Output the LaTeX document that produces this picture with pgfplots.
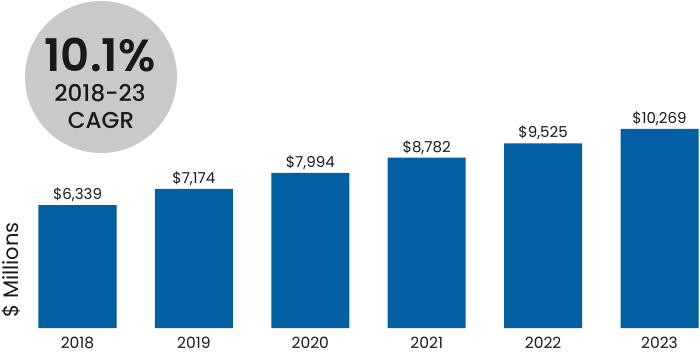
\documentclass[border=0pt]{standalone}
\usepackage{pgfplots}
\pgfplotsset{compat=1.18}
\usepackage{fontspec}
\setmainfont{Poppins}
\newfontfamily\psemi{Poppins SemiBold}
\newfontfamily\pmed{Poppins Medium}
\definecolor{barblue}{RGB}{0,96,162}
\definecolor{circgrey}{RGB}{201,201,201}
\definecolor{txt}{RGB}{25,25,25}
\begin{document}
\begin{tikzpicture}
\useasboundingbox (0,0) rectangle (700pt,353pt);
\fill[circgrey] (101pt,276pt) circle (76pt);
\node[txt, font=\fontsize{45}{50}\selectfont\psemi] at (100pt,298pt) {10.1\%};
\node[txt, font=\fontsize{23}{26}\selectfont\pmed] at (100pt,260pt) {2018-23};
\node[txt, font=\fontsize{23}{26}\selectfont\pmed] at (101pt,233pt) {CAGR};
\node[txt, rotate=90, font=\fontsize{21}{24}\selectfont] at (11pt,83pt) {\$ Millions};
\begin{axis}[
  at={(0pt,25pt)}, anchor=south west,
  scale only axis, width=700pt, height=328pt,
  xmin=-0.6658, xmax=5.348, ymin=0, ymax=16916,
  axis line style={draw=none}, tick style={draw=none},
  ytick=\empty,
  xtick={0,1,2,3,4,5},
  xticklabels={2018,2019,2020,2021,2022,2023},
  xticklabel style={font=\fontsize{15.5}{18}\selectfont, text=txt, yshift=-6pt},
  clip=false,
]
\addplot[ybar, bar width=78pt, fill=barblue, draw=none,
  nodes near coords, point meta=explicit symbolic,
  every node near coord/.append style={font=\fontsize{15}{18}\selectfont, text=txt}]
  coordinates {(0,6339) [\$6,339] (1,7174) [\$7,174] (2,7994) [\$7,994]
               (3,8782) [\$8,782] (4,9525) [\$9,525] (5,10269) [\$10,269]};
\end{axis}
\end{tikzpicture}
\end{document}
